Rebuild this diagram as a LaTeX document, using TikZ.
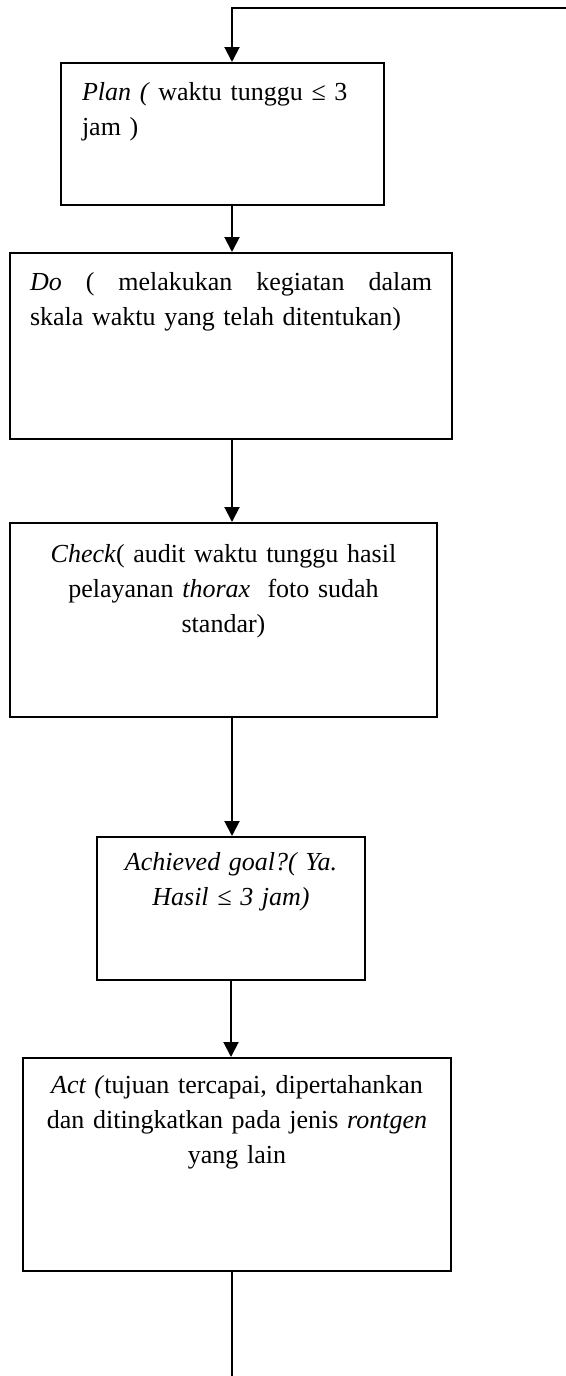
\documentclass[tikz,border=0pt]{standalone}
\usepackage{fontspec}
\setmainfont{Liberation Serif}
\usetikzlibrary{arrows.meta, positioning}

\begin{document}
\begin{tikzpicture}[
    x=0.5pt, y=-0.5pt,
    >={Triangle[length=7.5pt, width=7.5pt]},
    stepbox/.style={
        draw=black,
        line width=1pt,
        fill=white,
        inner ysep=0pt,
        font=\fontsize{13}{17.5}\selectfont
    },
    flow/.style={
        draw=black,
        line width=1pt,
        ->
    },
    tail/.style={
        draw=black,
        line width=0.8pt
    }
]
\useasboundingbox (0,0) rectangle (566,1376);

% Boxes
\node[stepbox, inner xsep=10.5pt, text width=140.5pt, text height=18.5pt, text depth=52.5pt, align=left] (plan) at (222.5,134)
    {\textit{Plan (} waktu tunggu ≤ 3\\jam )};

\node[stepbox, inner xsep=10pt, text width=201pt, text height=18.5pt, text depth=74.5pt, align=left] (do) at (231,346)
    {\textit{Do} \hfill ( \hfill melakukan \hfill kegiatan \hfill dalam\\skala waktu yang telah ditentukan)};

\node[stepbox, inner xsep=10pt, text width=193.5pt, text height=19.5pt, text depth=77.5pt, align=center] (check) at (223.5,620)
    {\textit{Check}( audit waktu tunggu hasil\\pelayanan \textit{thorax} \ foto sudah\\standar)};

\node[stepbox, inner xsep=8pt, text width=118pt, text height=16.5pt, text depth=55pt, align=center, font=\fontsize{13}{17.5}\selectfont\itshape] (goal) at (231,908.5)
    {Achieved goal?( Ya.\\Hasil ≤ 3 jam)};

\node[stepbox, inner xsep=8pt, text width=198pt, text height=17.5pt, text depth=89pt, align=center] (act) at (237,1164.5)
    {\textit{Act (}tujuan tercapai, dipertahankan\\dan ditingkatkan pada jenis \textit{rontgen}\\yang lain};

% Loop ends
\coordinate (spine) at (232,0);
\coordinate (loopin) at (566,8);
\coordinate (loopout) at (232,1376);

% Connectors
\draw[flow] (loopin) -| (plan.north -| spine);
\draw[flow] (plan.south -| spine) -- (do.north -| spine);
\draw[flow] (do.south -| spine) -- (check.north -| spine);
\draw[flow] (check.south -| spine) -- (goal.north -| spine);
\draw[flow] (goal.south) -- (goal.south |- act.north);
\draw[tail] (act.south -| spine) -- (loopout);

\end{tikzpicture}
\end{document}
